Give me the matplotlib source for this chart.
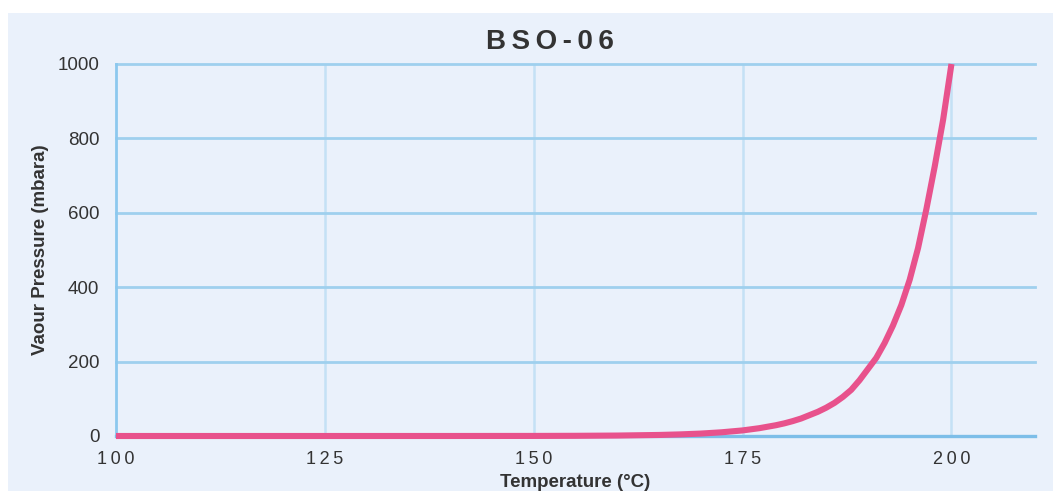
import numpy as np
import matplotlib
matplotlib.use("Agg")
import matplotlib.pyplot as plt
from matplotlib.patches import Rectangle

plt.rcParams['font.family'] = ['Liberation Sans', 'DejaVu Sans']

# data
temperature = [100, 125, 140, 150, 155, 160, 165, 167.5, 170, 172.5,
               175, 176, 177, 178, 179, 180, 181, 182, 183, 184,
               185, 186, 187, 188, 189, 190, 191, 192, 193, 194,
               195, 196, 197, 198, 199, 200]
pressure = [0, 0, 0.04, 0.2, 0.5, 1.2, 2.8, 4.3, 6.5, 10,
            15, 18, 21, 25, 29, 34, 40, 47, 56, 65,
            76, 89, 105, 124, 150, 180, 210, 250, 297, 352,
            420, 505, 610, 725, 850, 1000]

x_ticks = [100, 125, 150, 175, 200]
y_ticks = [0, 200, 400, 600, 800, 1000]
title = "BSO-06"

panel_col = '#EAF1FB'
hgrid_col = '#9FD0EE'
vgrid_col = '#C4E1F5'
line_col = '#E8528C'
text_col = '#333333'

W, H = 1053, 491
fig = plt.figure(figsize=(W / 100, H / 100), dpi=100)
fig.patch.set_facecolor('white')
fig.patches.append(Rectangle((8 / W, 0), 1 - 8 / W, (H - 13) / H,
                             transform=fig.transFigure, facecolor=panel_col,
                             edgecolor='none', zorder=-5))

ax = fig.add_axes([116 / W, 1 - 436 / H, (1035 - 116) / W, (436 - 64) / H])
ax.set_facecolor('none')

ax.plot(temperature, pressure, color=line_col, lw=4.4, solid_capstyle='butt',
        solid_joinstyle='round', zorder=5, clip_on=False)

ax.set_xlim(100, 210)
ax.set_ylim(0, 1000)
ax.set_xticks(x_ticks)
ax.set_yticks(y_ticks)

for t in x_ticks[1:]:
    ax.axvline(t, color=vgrid_col, lw=1.8, zorder=1)
for v in y_ticks[1:]:
    ax.axhline(v, color=hgrid_col, lw=2.0, zorder=2, clip_on=False)
ax.axhline(0, color='#7DBEE8', lw=2.4, zorder=3, clip_on=False)

for side in ['top', 'right', 'bottom']:
    ax.spines[side].set_visible(False)
ax.spines['left'].set_color('#8CC8EE')
ax.spines['left'].set_linewidth(2.0)

ax.tick_params(axis='both', length=0, colors=text_col)
ax.tick_params(axis='x', pad=11, labelsize=13)
ax.tick_params(axis='y', pad=12, labelsize=13.5)
# x tick labels are letter-spaced in the original
ax.set_xticklabels(["\u2009".join(str(t)) for t in x_ticks])

# axis titles placed by hand, the x one sits at the bottom edge
fig.text(575 / W, 1 - 487 / H, "Temperature (°C)", fontsize=13.5,
         fontweight='bold', color=text_col, ha='center', va='baseline')
fig.text(41 / W, 1 - 250 / H, "Vaour Pressure (mbara)", fontsize=13.5,
         fontweight='bold', color=text_col, ha='center', va='center',
         rotation=90)

fig.text(550 / W, 1 - 42 / H, "\u2009".join(title), fontsize=20,
         fontweight='bold', color=text_col, ha='center', va='center')

fig.savefig("out.png", dpi=100)
